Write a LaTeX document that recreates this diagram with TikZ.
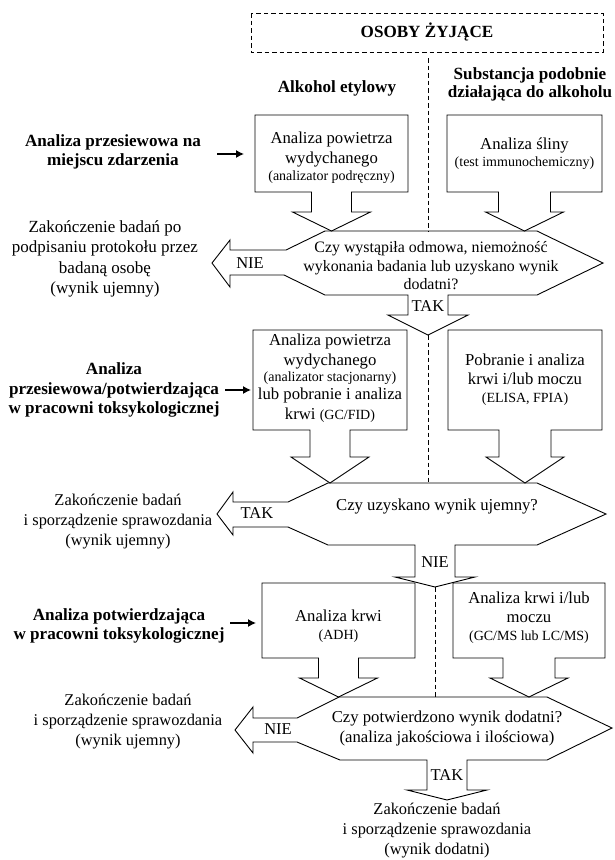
\documentclass[tikz,border=0pt]{standalone}
\usepackage{fontspec}
\setmainfont{Liberation Serif}
\usetikzlibrary{arrows.meta}
\newcommand\mysmall{\fontsize{14}{16}\selectfont}
\begin{document}
\begin{tikzpicture}[x=1pt,y=-1pt,
  shp/.style={draw=black, line width=0.9pt, line join=miter},
  dsh/.style={draw=black, line width=0.8pt, dash pattern=on 4.5pt off 3pt},
  txt/.style={align=center, inner sep=0pt, font=\fontsize{16.7}{20}\selectfont},
  btxt/.style={align=center, inner sep=0pt, font=\fontsize{17.1}{19.5}\selectfont\bfseries},
  lbl/.style={inner sep=0pt, font=\fontsize{16.5}{20}\selectfont},
  sarr/.style={-{Latex[length=8pt,width=8pt]}, line width=1.2pt}
]
\useasboundingbox (0,0) rectangle (614,860);

% title
\draw[dsh] (251,13) rectangle (603,52);
\node[btxt] (title) at (427,32) {OSOBY ŻYJĄCE};
\node[btxt] (h1) at (337,88) {Alkohol etylowy};
\node[btxt, font=\fontsize{17.1}{18}\selectfont\bfseries] (h2) at (530,84) {Substancja podobnie\\działająca do alkoholu};

% dashed separators
\coordinate (s1a) at (428,58); \coordinate (s1b) at (428,231);
\coordinate (s2a) at (428,335); \coordinate (s2b) at (428,483);
\coordinate (s3a) at (435,587); \coordinate (s3b) at (435,697);
\draw[dsh] (s1a) -- (s1b);
\draw[dsh] (s2a) -- (s2b);
\draw[dsh] (s3a) -- (s3b);

% section 1 boxes
\draw[shp] (255,115) -- (408,115) -- (408,192) -- (351.5,192) -- (351.5,212) -- (370.5,212) -- (331.5,231) -- (292.5,212) -- (311.5,212) -- (311.5,192) -- (255,192) -- cycle;
\draw[shp] (447,115) -- (602,115) -- (602,192) -- (550.5,192) -- (550.5,212) -- (563.5,212) -- (524.5,231) -- (485.5,212) -- (498.5,212) -- (498.5,192) -- (447,192) -- cycle;
\node[txt] (b1) at (331.5,158) {Analiza powietrza\\wydychanego\\[-3pt]{\mysmall (analizator podręczny)}};
\node[txt] (b2) at (524.5,154) {Analiza śliny\\[-3pt]{\mysmall (test immunochemiczny)}};

% decision 1
\draw[shp] (325,231) -- (537,231) -- (603,263) -- (537,295) -- (448,295) -- (448,315) -- (468,315) -- (428,335) -- (388,315) -- (408,315) -- (408,295) -- (325,295) -- (284,275) -- (230,275) -- (230,287) -- (212,263) -- (230,240) -- (230,250) -- (286,250) -- cycle;
\node[txt, font=\fontsize{15.9}{18.5}\selectfont] (d1) at (431,266) {Czy wystąpiła odmowa, niemożność\\wykonania badania lub uzyskano wynik\\dodatni?};
\node[lbl] (d1no) at (250,263) {NIE};
\node[lbl] (d1yes) at (428,306) {TAK};

% left texts section 1
\node[btxt] (q1) at (113,152) {Analiza przesiewowa na\\miejscu zdarzenia};
\coordinate (a1s) at (217,154); \coordinate (a1e) at (244,154);
\draw[sarr] (a1s) -- (a1e);
\node[txt, font=\fontsize{17}{20.5}\selectfont] (e1) at (105,259) {Zakończenie badań po\\podpisaniu protokołu przez\\badaną osobę\\(wynik ujemny)};

% section 2 boxes
\draw[shp] (253,330) -- (407,330) -- (407,430) -- (350,430) -- (350,457) -- (369,457) -- (330,483) -- (291,457) -- (310,457) -- (310,430) -- (253,430) -- cycle;
\draw[shp] (448,330) -- (602,330) -- (602,430) -- (551,430) -- (551,457) -- (564,457) -- (525,483) -- (486,457) -- (499,457) -- (499,430) -- (448,430) -- cycle;
\node[txt] (b3) at (330,378) {Analiza powietrza\\wydychanego\\[-4pt]{\mysmall (analizator stacjonarny)}\\[-2pt]lub pobranie i analiza\\krwi {\mysmall (GC/FID)}};
\node[txt, font=\fontsize{16.7}{18.5}\selectfont] (b4) at (525,380) {Pobranie i analiza\\krwi i/lub moczu\\{\mysmall (ELISA, FPIA)}};

\node[btxt] (q2) at (114,390) {Analiza\\przesiewowa/potwierdzająca\\w pracowni toksykologicznej};
\coordinate (a2s) at (225,390); \coordinate (a2e) at (251,390);
\draw[sarr] (a2s) -- (a2e);

% decision 2
\draw[shp] (328,483) -- (537,483) -- (606,514) -- (537,545) -- (455,545) -- (455,577) -- (475,577) -- (435,587) -- (395,577) -- (415,577) -- (415,545) -- (328,545) -- (288,527) -- (233,527) -- (233,535) -- (217,514) -- (233,492) -- (233,502) -- (288,502) -- cycle;
\node[txt] (d2) at (437,507) {Czy uzyskano wynik ujemny?};
\node[lbl] (d2yes) at (257,513) {TAK};
\node[lbl] (d2no) at (435,562) {NIE};
\node[txt, font=\fontsize{16.4}{20}\selectfont] (e2) at (118,522) {Zakończenie badań\\i sporządzenie sprawozdania\\(wynik ujemny)};

% section 3 boxes
\draw[shp] (262,583) -- (415,583) -- (415,658) -- (358.5,658) -- (358.5,678) -- (377.5,678) -- (338.5,697) -- (299.5,678) -- (318.5,678) -- (318.5,658) -- (262,658) -- cycle;
\draw[shp] (453,583) -- (605,583) -- (605,658) -- (555,658) -- (555,678) -- (568,678) -- (529,697) -- (490,678) -- (503,678) -- (503,658) -- (453,658) -- cycle;
\node[txt, font=\fontsize{16.7}{18.5}\selectfont] (b5) at (338.5,626) {Analiza krwi\\{\mysmall (ADH)}};
\node[txt, font=\fontsize{16.7}{18.5}\selectfont] (b6) at (529,618) {Analiza krwi i/lub\\moczu\\{\mysmall (GC/MS lub LC/MS)}};

\node[btxt, font=\fontsize{17.1}{18.5}\selectfont\bfseries] (q3) at (119,626) {Analiza potwierdzająca\\w pracowni toksykologicznej};
\coordinate (a3s) at (230,623); \coordinate (a3e) at (256,623);
\draw[sarr] (a3s) -- (a3e);

% decision 3
\draw[shp] (339,697) -- (547,697) -- (612,728) -- (547,760) -- (467,760) -- (467,790) -- (487,790) -- (447,800) -- (407,790) -- (427,790) -- (427,760) -- (340,760) -- (297,742) -- (253,742) -- (253,753) -- (235,730) -- (253,707) -- (253,718) -- (297,718) -- cycle;
\node[txt] (d3) at (447,728) {Czy potwierdzono wynik dodatni?\\(analiza jakościowa i ilościowa)};
\node[lbl] (d3no) at (278,729) {NIE};
\node[lbl] (d3yes) at (447,775) {TAK};
\node[txt, font=\fontsize{16.4}{20}\selectfont] (e3) at (128,722) {Zakończenie badań\\i sporządzenie sprawozdania\\(wynik ujemny)};

\node[txt, font=\fontsize{16.4}{20}\selectfont] (e4) at (437,831) {Zakończenie badań\\i sporządzenie sprawozdania\\(wynik dodatni)};
\end{tikzpicture}
\end{document}
